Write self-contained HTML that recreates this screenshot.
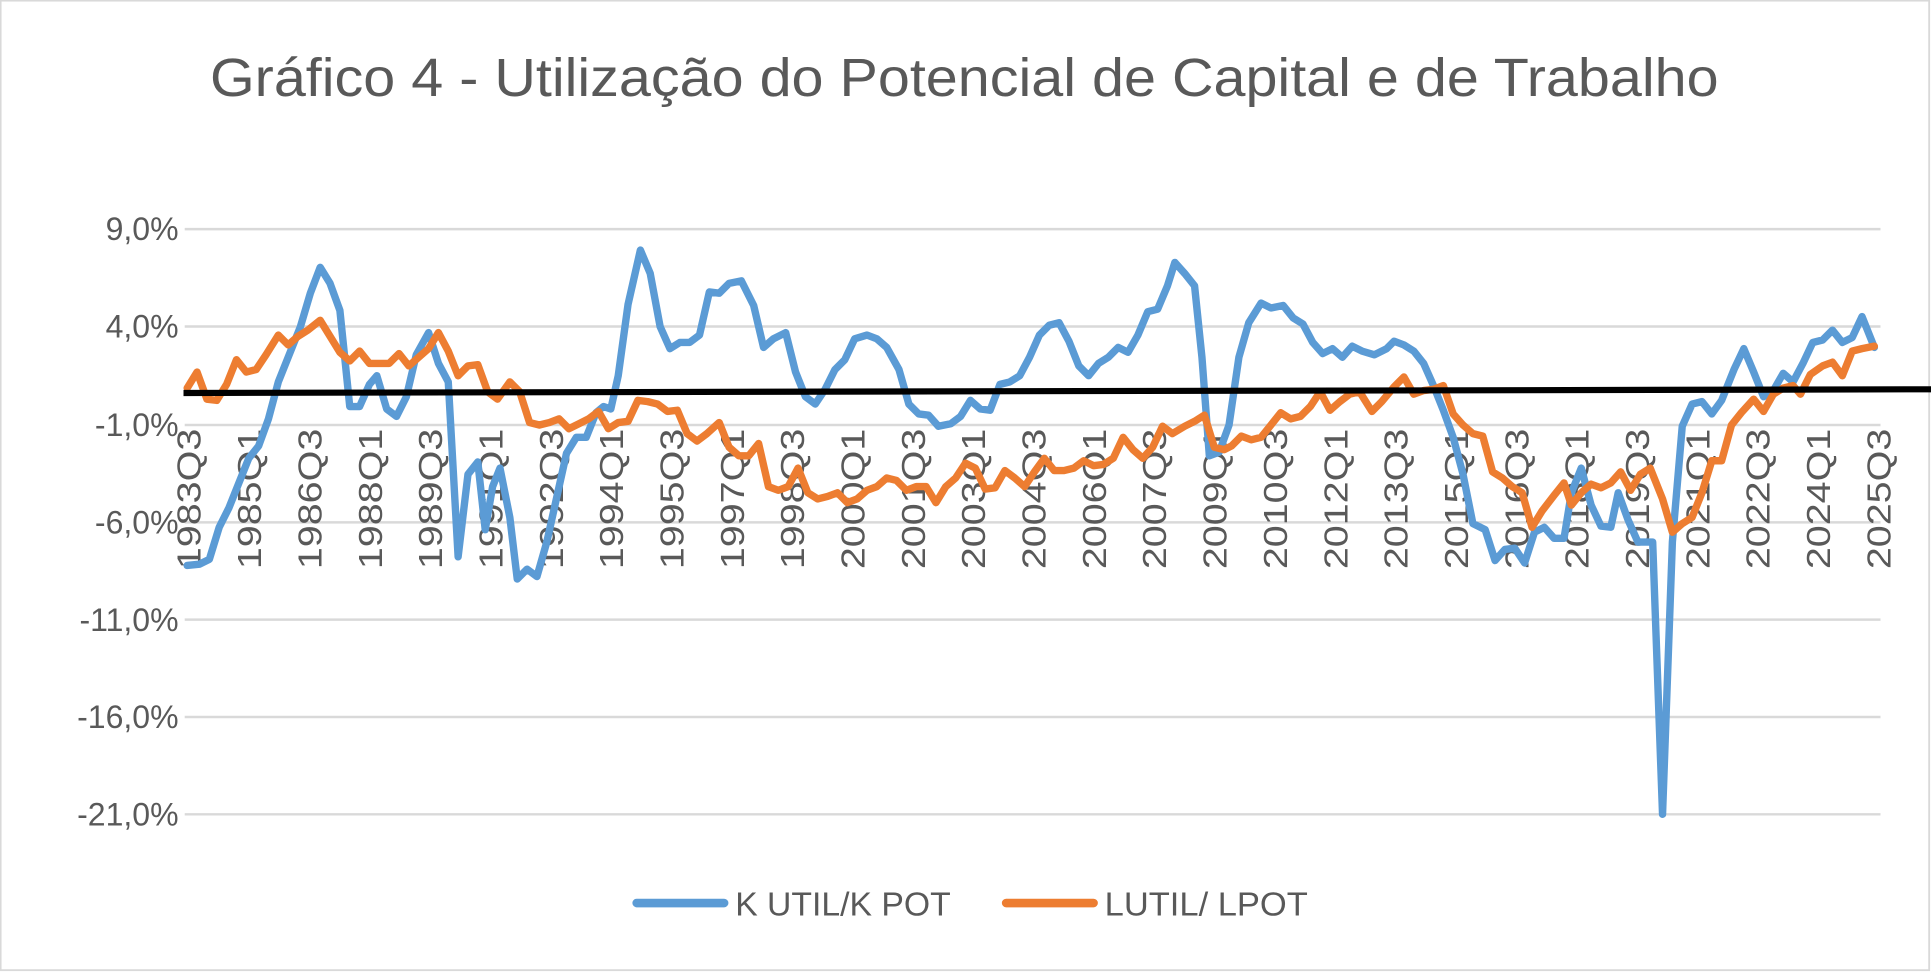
<!DOCTYPE html>
<html><head><meta charset="utf-8"><style>html,body{margin:0;padding:0;background:#fff}svg{display:block}</style></head>
<body>
<svg width="1931" height="972" viewBox="0 0 1568 789" preserveAspectRatio="none" xmlns="http://www.w3.org/2000/svg" font-family="Liberation Sans, sans-serif">
<rect x="0.5" y="0.5" width="1566" height="787" fill="#fff" stroke="#d9d9d9" stroke-width="1.5"/>
<text x="783" y="78" text-anchor="middle" font-size="44" fill="#595959" textLength="1225" lengthAdjust="spacingAndGlyphs">Gráfico 4 - Utilização do Potencial de Capital e de Trabalho</text>
<g stroke="#d9d9d9" stroke-width="2">
<line x1="150" y1="186" x2="1527" y2="186"/><line x1="150" y1="265" x2="1527" y2="265"/>
<line x1="150" y1="345" x2="1527" y2="345"/><line x1="150" y1="424" x2="1527" y2="424"/>
<line x1="150" y1="503" x2="1527" y2="503"/><line x1="150" y1="582" x2="1527" y2="582"/>
<line x1="150" y1="661" x2="1527" y2="661"/>
</g>
<g font-size="26" fill="#595959" text-anchor="end">
<text x="145" y="195">9,0%</text><text x="145" y="274">4,0%</text><text x="145" y="354">-1,0%</text>
<text x="145" y="433">-6,0%</text><text x="145" y="512">-11,0%</text><text x="145" y="591">-16,0%</text>
<text x="145" y="670">-21,0%</text>
</g>
<g font-size="27" fill="#595959" text-anchor="end" lengthAdjust="spacingAndGlyphs">
<text textLength="114" lengthAdjust="spacingAndGlyphs" x="163" y="348" transform="rotate(-90 163 348)">1983Q3</text>
<text textLength="114" lengthAdjust="spacingAndGlyphs" x="212" y="348" transform="rotate(-90 212 348)">1985Q1</text>
<text textLength="114" lengthAdjust="spacingAndGlyphs" x="261" y="348" transform="rotate(-90 261 348)">1986Q3</text>
<text textLength="114" lengthAdjust="spacingAndGlyphs" x="310" y="348" transform="rotate(-90 310 348)">1988Q1</text>
<text textLength="114" lengthAdjust="spacingAndGlyphs" x="359" y="348" transform="rotate(-90 359 348)">1989Q3</text>
<text textLength="114" lengthAdjust="spacingAndGlyphs" x="408" y="348" transform="rotate(-90 408 348)">1991Q1</text>
<text textLength="114" lengthAdjust="spacingAndGlyphs" x="457" y="348" transform="rotate(-90 457 348)">1992Q3</text>
<text textLength="114" lengthAdjust="spacingAndGlyphs" x="506" y="348" transform="rotate(-90 506 348)">1994Q1</text>
<text textLength="114" lengthAdjust="spacingAndGlyphs" x="555" y="348" transform="rotate(-90 555 348)">1995Q3</text>
<text textLength="114" lengthAdjust="spacingAndGlyphs" x="604" y="348" transform="rotate(-90 604 348)">1997Q1</text>
<text textLength="114" lengthAdjust="spacingAndGlyphs" x="653" y="348" transform="rotate(-90 653 348)">1998Q3</text>
<text textLength="114" lengthAdjust="spacingAndGlyphs" x="702" y="348" transform="rotate(-90 702 348)">2000Q1</text>
<text textLength="114" lengthAdjust="spacingAndGlyphs" x="751" y="348" transform="rotate(-90 751 348)">2001Q3</text>
<text textLength="114" lengthAdjust="spacingAndGlyphs" x="800" y="348" transform="rotate(-90 800 348)">2003Q1</text>
<text textLength="114" lengthAdjust="spacingAndGlyphs" x="849" y="348" transform="rotate(-90 849 348)">2004Q3</text>
<text textLength="114" lengthAdjust="spacingAndGlyphs" x="898" y="348" transform="rotate(-90 898 348)">2006Q1</text>
<text textLength="114" lengthAdjust="spacingAndGlyphs" x="947" y="348" transform="rotate(-90 947 348)">2007Q3</text>
<text textLength="114" lengthAdjust="spacingAndGlyphs" x="996" y="348" transform="rotate(-90 996 348)">2009Q1</text>
<text textLength="114" lengthAdjust="spacingAndGlyphs" x="1045" y="348" transform="rotate(-90 1045 348)">2010Q3</text>
<text textLength="114" lengthAdjust="spacingAndGlyphs" x="1094" y="348" transform="rotate(-90 1094 348)">2012Q1</text>
<text textLength="114" lengthAdjust="spacingAndGlyphs" x="1143" y="348" transform="rotate(-90 1143 348)">2013Q3</text>
<text textLength="114" lengthAdjust="spacingAndGlyphs" x="1192" y="348" transform="rotate(-90 1192 348)">2015Q1</text>
<text textLength="114" lengthAdjust="spacingAndGlyphs" x="1241" y="348" transform="rotate(-90 1241 348)">2016Q3</text>
<text textLength="114" lengthAdjust="spacingAndGlyphs" x="1290" y="348" transform="rotate(-90 1290 348)">2018Q1</text>
<text textLength="114" lengthAdjust="spacingAndGlyphs" x="1339" y="348" transform="rotate(-90 1339 348)">2019Q3</text>
<text textLength="114" lengthAdjust="spacingAndGlyphs" x="1388" y="348" transform="rotate(-90 1388 348)">2021Q1</text>
<text textLength="114" lengthAdjust="spacingAndGlyphs" x="1437" y="348" transform="rotate(-90 1437 348)">2022Q3</text>
<text textLength="114" lengthAdjust="spacingAndGlyphs" x="1486" y="348" transform="rotate(-90 1486 348)">2024Q1</text>
<text textLength="114" lengthAdjust="spacingAndGlyphs" x="1535" y="348" transform="rotate(-90 1535 348)">2025Q3</text>
</g>
<polyline fill="none" stroke="#5b9bd5" stroke-width="6" stroke-linejoin="round" stroke-linecap="round" points="152,459 162,458 170,454 178,428 186,412 194,392 202,372 210,362 218,340 226,310 234,290 244,265 252,238 260,217 268,230 276,252 284,330 292,330 300,312 306,305 314,332 322,338 330,322 338,288 348,270 356,295 364,310 372,452 380,385 388,375 394,430 400,395 406,380 414,420 420,470 428,462 436,468 444,440 452,404 460,368 468,355 476,355 484,335 490,330 496,332 502,305 510,247 520,203 528,222 536,265 544,283 552,278 560,278 568,272 576,237 584,238 592,230 602,228 612,248 620,282 628,275 638,270 646,302 654,322 662,328 670,316 678,300 686,292 694,275 704,272 712,275 720,282 730,300 738,328 746,336 754,337 762,346 772,344 780,338 788,325 796,332 804,333 812,312 820,310 828,305 836,290 844,272 852,264 860,262 868,277 876,297 884,305 892,295 900,290 908,282 916,286 924,272 932,253 940,251 948,232 954,213 962,222 970,232 976,290 982,370 990,367 998,345 1006,290 1014,262 1024,246 1032,250 1042,248 1050,258 1058,263 1066,278 1074,287 1082,283 1090,290 1098,281 1106,285 1116,288 1126,283 1132,277 1140,280 1148,285 1156,295 1164,313 1172,333 1180,355 1188,385 1196,425 1206,430 1214,455 1222,446 1230,445 1238,457 1246,432 1254,428 1262,437 1270,437 1276,400 1284,380 1292,410 1300,427 1308,428 1314,400 1322,422 1330,440 1342,440 1350,661 1358,440 1366,346 1374,328 1382,326 1390,336 1398,325 1408,300 1416,283 1424,302 1432,322 1440,317 1448,303 1456,310 1464,295 1472,278 1480,276 1488,268 1496,278 1504,274 1512,257 1522,282"/>
<polyline fill="none" stroke="#ed7d31" stroke-width="6" stroke-linejoin="round" stroke-linecap="round" points="152,315 160,302 168,324 176,325 184,312 192,292 200,302 208,300 216,288 226,272 234,280 242,273 250,268 260,260 268,273 276,286 284,293 292,285 300,295 308,295 316,295 324,287 332,297 340,290 348,283 356,270 364,285 372,305 380,297 388,296 396,318 404,324 414,310 422,318 430,343 438,345 446,343 454,340 462,348 470,344 478,340 486,334 494,348 502,343 510,342 518,325 526,326 534,328 542,334 550,333 558,352 566,358 574,352 584,343 592,363 600,370 608,370 616,360 624,395 632,398 640,395 648,380 656,400 664,405 672,403 680,400 688,408 696,405 704,398 712,395 720,388 728,390 736,398 744,395 752,395 760,408 768,395 776,388 784,376 792,380 800,397 808,396 816,382 824,388 832,395 840,383 848,372 856,382 864,382 872,380 880,374 888,378 896,377 904,372 912,355 920,365 928,372 936,363 944,346 952,352 962,346 970,342 978,337 986,363 994,365 1000,362 1008,354 1016,357 1024,355 1032,345 1040,335 1048,340 1056,338 1064,330 1072,318 1080,333 1088,326 1096,320 1104,318 1114,334 1122,326 1132,314 1140,306 1148,320 1156,317 1164,316 1172,313 1180,336 1188,345 1196,352 1204,354 1212,383 1220,388 1228,395 1236,400 1244,428 1252,415 1262,402 1270,392 1276,410 1284,400 1292,393 1300,396 1308,392 1316,383 1324,398 1332,385 1340,380 1350,405 1358,432 1366,425 1374,420 1382,400 1390,374 1398,374 1406,345 1414,335 1424,324 1432,334 1440,320 1448,315 1456,313 1462,320 1470,304 1480,297 1488,294 1496,305 1504,285 1512,283 1522,281"/>
<line x1="149" y1="319" x2="1568" y2="316" stroke="#000" stroke-width="5"/>
<line x1="517" y1="733" x2="588" y2="733" stroke="#5b9bd5" stroke-width="7" stroke-linecap="round"/>
<text x="597" y="743" font-size="27" fill="#595959" textLength="175" lengthAdjust="spacingAndGlyphs">K UTIL/K POT</text>
<line x1="817" y1="733" x2="888" y2="733" stroke="#ed7d31" stroke-width="7" stroke-linecap="round"/>
<text x="897" y="743" font-size="27" fill="#595959" textLength="165" lengthAdjust="spacingAndGlyphs">LUTIL/ LPOT</text>
</svg>
</body></html>
